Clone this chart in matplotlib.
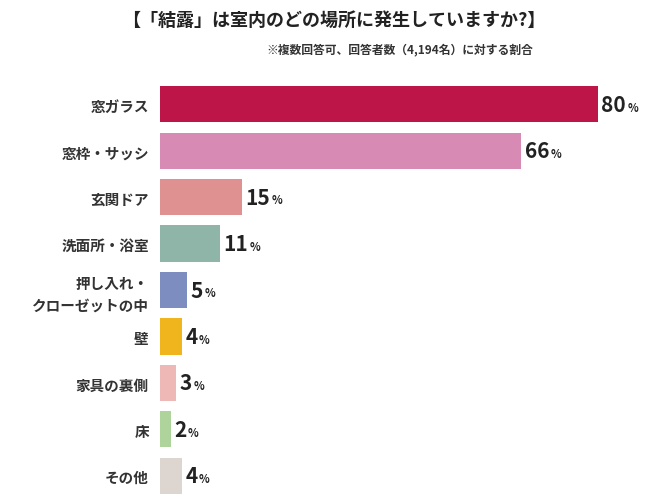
import matplotlib
matplotlib.use("Agg")
import matplotlib.pyplot as plt
from matplotlib.transforms import offset_copy

plt.rcParams['font.family'] = ['Noto Sans CJK JP', 'DejaVu Sans']

categories = ["窓ガラス", "窓枠・サッシ", "玄関ドア", "洗面所・浴室", "押し入れ・\nクローゼットの中",
              "壁", "家具の裏側", "床", "その他"]
values = [80, 66, 15, 11, 5, 4, 3, 2, 4]
colors = ["#BE1549", "#D68AB4", "#DE9190", "#8FB5A9", "#7E8DBF", "#F0B41C", "#EDB8B5", "#AED39B", "#DDD5D0"]

fig = plt.figure(figsize=(6.68, 5.02), dpi=100)
ax = fig.add_axes([160/668, 2/502, 508/668, 418/502])
n = len(categories)
ys = list(range(n))
ax.barh(ys, values, color=colors, height=0.78)
ax.set_ylim(n - 0.5, -0.5)
ax.set_xlim(0, 508/5.475)
ax.set_yticks(ys)
ax.set_yticklabels(categories, fontsize=10.5, fontweight='bold', color='#333333', linespacing=1.4)
ax.tick_params(axis='y', length=0, pad=8)
ax.set_xticks([])
for s in ax.spines.values():
    s.set_visible(False)

fig.canvas.draw()
r = fig.canvas.get_renderer()
for y, v in zip(ys, values):
    t = ax.text(v + 0.6, y, str(v), fontsize=15, fontweight='bold', color='#222222', va='center', ha='left',
                family=['Noto Sans CJK JP'])
    bb = t.get_window_extent(r)
    w = bb.width * 72 / fig.dpi
    tr = offset_copy(ax.transData, fig=fig, x=w + 1, y=-2, units='points')
    ax.text(v + 0.6, y, "%", fontsize=8, fontweight='bold', color='#222222', va='center', ha='left', transform=tr)

fig.text(0.5, 482/502, "【「結露」は室内のどの場所に発生していますか?】", ha='center', va='center',
         fontsize=13, fontweight='bold', color='#222222')
fig.text(400/668, 452/502, "※複数回答可、回答者数（4,194名）に対する割合", ha='center', va='center',
         fontsize=8.5, fontweight='bold', color='#333333')
fig.savefig("out.png", dpi=100)
